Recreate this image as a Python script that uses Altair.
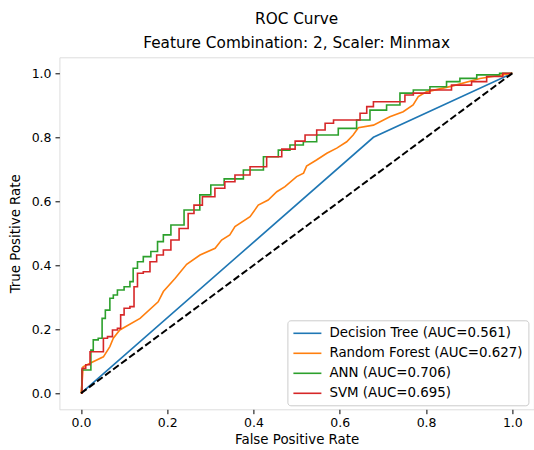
import altair as alt
import pandas as pd

# ROC points (false positive rate, true positive rate) for each model
dt_fpr = [0.0, 0.678, 1.0]
dt_tpr = [0.0, 0.800, 1.0]

rf_fpr = [0.0, 0.003, 0.005, 0.021, 0.052, 0.067, 0.075, 0.090, 0.137, 0.179, 0.191, 0.218,
          0.245, 0.276, 0.311, 0.326, 0.345, 0.357, 0.392, 0.411, 0.434, 0.454, 0.473, 0.500,
          0.516, 0.523, 0.546, 0.570, 0.593, 0.616, 0.631, 0.643, 0.678, 0.716, 0.747, 0.770,
          0.782, 0.801, 0.860, 0.925, 1.0]
rf_tpr = [0.0, 0.040, 0.083, 0.094, 0.114, 0.146, 0.172, 0.198, 0.234, 0.286, 0.318, 0.359,
          0.403, 0.432, 0.453, 0.479, 0.495, 0.521, 0.552, 0.588, 0.604, 0.630, 0.646, 0.677,
          0.688, 0.710, 0.729, 0.750, 0.766, 0.786, 0.807, 0.830, 0.838, 0.864, 0.880, 0.901,
          0.927, 0.942, 0.960, 0.984, 1.0]

ann_fpr = [0.0, 0.004, 0.021, 0.025, 0.032, 0.048, 0.050, 0.063, 0.071, 0.079, 0.090, 0.110,
           0.117, 0.125, 0.137, 0.152, 0.172, 0.183, 0.199, 0.218, 0.260, 0.291, 0.311, 0.353,
           0.400, 0.446, 0.469, 0.500, 0.531, 0.562, 0.631, 0.647, 0.693, 0.724, 0.755, 0.786,
           0.832, 0.863, 0.894, 0.941, 1.0]
ann_tpr = [0.0, 0.073, 0.073, 0.135, 0.167, 0.172, 0.234, 0.260, 0.297, 0.307, 0.323, 0.333,
           0.349, 0.391, 0.411, 0.427, 0.443, 0.474, 0.495, 0.526, 0.573, 0.620, 0.651, 0.670,
           0.698, 0.739, 0.760, 0.776, 0.786, 0.807, 0.828, 0.854, 0.885, 0.901, 0.938, 0.948,
           0.958, 0.974, 0.984, 0.995, 1.0]

svm_fpr = [0.0, 0.005, 0.017, 0.025, 0.048, 0.056, 0.067, 0.079, 0.090, 0.094, 0.106, 0.121,
           0.125, 0.137, 0.152, 0.168, 0.183, 0.199, 0.218, 0.237, 0.260, 0.264, 0.299, 0.322,
           0.345, 0.369, 0.415, 0.446, 0.485, 0.508, 0.531, 0.562, 0.570, 0.601, 0.639, 0.655,
           0.670, 0.686, 0.747, 0.755, 0.786, 0.832, 0.886, 0.925, 0.956, 1.0]
svm_tpr = [0.0, 0.078, 0.089, 0.130, 0.130, 0.172, 0.177, 0.198, 0.203, 0.245, 0.266, 0.271,
           0.333, 0.375, 0.380, 0.411, 0.432, 0.448, 0.479, 0.515, 0.562, 0.588, 0.614, 0.641,
           0.661, 0.682, 0.708, 0.739, 0.763, 0.788, 0.807, 0.823, 0.844, 0.854, 0.854, 0.875,
           0.896, 0.911, 0.911, 0.932, 0.938, 0.948, 0.963, 0.974, 0.990, 1.0]

models = ["Decision Tree", "Random Forest", "ANN", "SVM"]
auc_values = [0.561, 0.627, 0.706, 0.695]
colors = ["#1f77b4", "#ff7f0e", "#2ca02c", "#d62728"]

chance_x = [0.0, 1.0]
chance_y = [0.0, 1.0]

tick_values = [0.0, 0.2, 0.4, 0.6, 0.8, 1.0]

series = [(dt_fpr, dt_tpr), (rf_fpr, rf_tpr), (ann_fpr, ann_tpr), (svm_fpr, svm_tpr)]
labels = [f"{m} (AUC={a:.3f})" for m, a in zip(models, auc_values)]


def roc_frame(names, curves):
    rows = []
    for label, (xs, ys) in zip(names, curves):
        for i, (fx, ty) in enumerate(zip(xs, ys)):
            rows.append({"model": label, "fpr": fx, "tpr": ty, "idx": i})
    return pd.DataFrame(rows)


# tree models drawn as smooth polylines, ANN/SVM as staircases
smooth_df = roc_frame(labels[:2], series[:2])
stair_df = roc_frame(labels[2:], series[2:])
chance_df = pd.DataFrame({"fpr": chance_x, "tpr": chance_y})

FONT = "DejaVu Sans"

x_scale = alt.Scale(domain=[-0.05, 1.05], nice=False, zero=False)
y_scale = alt.Scale(domain=[-0.05, 1.05], nice=False, zero=False)

x_axis = alt.Axis(title="False Positive Rate", values=tick_values, format=".1f",
                  grid=False, domain=False, tickColor="black", tickSize=4.4,
                  labelPadding=3, labelFontSize=12.5, titleFontSize=13.4,
                  titleFontWeight="normal", titlePadding=3, labelColor="black",
                  titleColor="black", labelFont=FONT, titleFont=FONT)
y_axis = alt.Axis(title="True Positive Rate", values=tick_values, format=".1f",
                  grid=False, domain=False, tickColor="black", tickSize=4.4,
                  labelPadding=4, labelFontSize=12.5, titleFontSize=13.4,
                  titleFontWeight="normal", titlePadding=9, labelColor="black",
                  titleColor="black", labelFont=FONT, titleFont=FONT)

# short horizontal stroke used as the legend key
key_path = "M-2,0H2"

color_enc = alt.Color(
    "model:N",
    scale=alt.Scale(domain=labels, range=colors),
    sort=labels,
    legend=alt.Legend(
        title=None, orient="none", legendX=228, legendY=263,
        fillColor="white", strokeColor="#cccccc", cornerRadius=3,
        padding=5, rowPadding=5, symbolType=key_path, symbolSize=196,
        symbolOffset=7, symbolStrokeWidth=1.6, labelOffset=14,
        labelFontSize=13.4, labelFont=FONT, labelColor="black", labelLimit=400,
    ),
)

smooth = alt.Chart(smooth_df).mark_line(strokeWidth=1.6).encode(
    x=alt.X("fpr:Q", scale=x_scale, axis=x_axis),
    y=alt.Y("tpr:Q", scale=y_scale, axis=y_axis),
    color=color_enc,
    order="idx:Q",
)

stairs = alt.Chart(stair_df).mark_line(strokeWidth=1.6, interpolate="step").encode(
    x="fpr:Q",
    y="tpr:Q",
    color=color_enc,
    order="idx:Q",
)

chance = alt.Chart(chance_df).mark_line(
    color="black", strokeWidth=2, strokeDash=[7, 3]
).encode(x="fpr:Q", y="tpr:Q")

chart = alt.layer(smooth, stairs, chance).properties(
    width=474.5,
    height=352,
    title=alt.TitleParams(
        text=["ROC Curve", "Feature Combination: 2, Scaler: Minmax"],
        fontSize=15.3, font=FONT, fontWeight="normal", color="black",
        anchor="middle", lineHeight=24, offset=6,
    ),
    padding={"left": 59.4, "top": 57.3, "right": 0, "bottom": 40.7},
    autosize=alt.AutoSizeParams(type="none"),
).configure_view(stroke="#222222", strokeWidth=1).configure(background="white")

chart.save("out.html", embed_options={"renderer": "svg", "actions": False})
